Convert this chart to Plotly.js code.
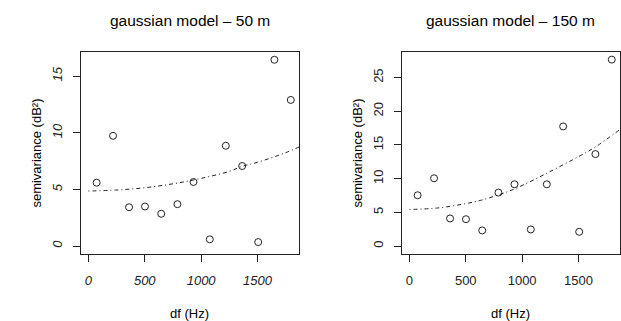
<!DOCTYPE html>
<html>
<head>
<meta charset="utf-8">
<script src="https://cdn.plot.ly/plotly-3.0.1.min.js"></script>
<style>html,body{margin:0;padding:0;background:#fff;}#plot{width:621px;height:321px;}</style>
</head>
<body>
<div id="plot"></div>
<script>
// lag distances (Hz)
var df = [73, 219, 361, 502, 646, 790, 932, 1077, 1219, 1364, 1506, 1650, 1795];
// empirical semivariance, 50 m
var semi50 = [5.6, 9.74, 3.43, 3.49, 2.85, 3.70, 5.66, 0.59, 8.86, 7.07, 0.35, 16.46, 12.91];
// empirical semivariance, 150 m
var semi150 = [7.54, 10.06, 4.10, 3.99, 2.32, 7.94, 9.17, 2.47, 9.17, 17.75, 2.12, 13.65, 27.66];
// fitted gaussian model curves
var fit50x = [0, 250, 500, 750, 1000, 1250, 1364, 1500, 1750, 1868];
var fit50y = [4.86, 4.95, 5.15, 5.5, 5.98, 6.6, 7.05, 7.4, 8.25, 8.75];
var fit150x = [0, 250, 500, 629, 790, 936, 1218, 1514, 1647, 1868];
var fit150y = [5.43, 5.65, 6.3, 6.77, 7.6, 8.5, 10.8, 13.4, 14.67, 17.3];
var titles = ["gaussian model \u2013 50 m", "gaussian model \u2013 150 m"];
var xTitle = "df (Hz)";
var yTitle = "semivariance (dB\u00b2)";

var W = 621, H = 321;
var boxTop = 52.3, boxBot = 253.5;
var lefts = [80.7, 401.7], rights = [299, 620];
var FONT = "Liberation Sans, Arial, sans-serif";
var ink = "#222";

function px(x){return x / W;}
function py(y){return 1 - y / H;}

var traces = [
  {x: df, y: semi50, type: "scatter", mode: "markers", xaxis: "x", yaxis: "y",
   marker: {symbol: "circle-open", size: 7, color: ink, line: {width: 1, color: ink}}, cliponaxis: false},
  {x: fit50x, y: fit50y, type: "scatter", mode: "lines", xaxis: "x", yaxis: "y",
   line: {color: ink, width: 1, dash: "1px,3px,4px,3px", shape: "spline"}},
  {x: df, y: semi150, type: "scatter", mode: "markers", xaxis: "x2", yaxis: "y2",
   marker: {symbol: "circle-open", size: 7, color: ink, line: {width: 1, color: ink}}, cliponaxis: false},
  {x: fit150x, y: fit150y, type: "scatter", mode: "lines", xaxis: "x2", yaxis: "y2",
   line: {color: ink, width: 1, dash: "1px,3px,4px,3px", shape: "spline"}}
];

function xa(i, italic){
  return {domain: [px(lefts[i]), px(rights[i])], range: [-68, 1868], anchor: i ? "y2" : "y",
    tickvals: [0, 500, 1000, 1500], ticks: "outside", ticklen: 7, tickwidth: 1, tickcolor: ink,
    ticklabelstandoff: 8,
    showline: true, mirror: true, linecolor: ink, linewidth: 1, showgrid: false, zeroline: false,
    tickfont: {family: FONT, size: 13, color: ink, style: italic ? "italic" : "normal"}, fixedrange: true};
}
function ya(i, italic, range, vals){
  return {domain: [py(boxBot), py(boxTop)], range: range, anchor: i ? "x2" : "x",
    tickvals: vals, ticks: "outside", ticklen: 7, tickwidth: 1, tickcolor: ink, tickangle: -90,
    ticklabelstandoff: 6,
    showline: true, mirror: true, linecolor: ink, linewidth: 1, showgrid: false, zeroline: false,
    tickfont: {family: FONT, size: 13, color: ink, style: italic ? "italic" : "normal"}, fixedrange: true};
}

var annotations = [];
for (var i = 0; i < 2; i++) {
  var cx = (lefts[i] + rights[i]) / 2;
  annotations.push({text: titles[i], xref: "paper", yref: "paper", x: px(cx), y: py(20),
    xanchor: "center", yanchor: "middle", showarrow: false, font: {family: FONT, size: 15.5, color: "#000"}});
  annotations.push({text: xTitle, xref: "paper", yref: "paper", x: px(cx), y: py(313),
    xanchor: "center", yanchor: "middle", showarrow: false, font: {family: FONT, size: 13, color: "#000"}});
  annotations.push({text: yTitle, xref: "paper", yref: "paper", x: px(lefts[i] - 44), y: py((boxTop + boxBot) / 2),
    xanchor: "center", yanchor: "middle", textangle: -90, showarrow: false, font: {family: FONT, size: 13, color: "#000"}});
}

var layout = {
  width: W, height: H, margin: {l: 0, r: 0, t: 0, b: 0},
  paper_bgcolor: "#fff", plot_bgcolor: "#fff", showlegend: false,
  xaxis: xa(0, true), yaxis: ya(0, true, [-0.66, 17.12], [0, 5, 10, 15]),
  xaxis2: xa(1, false), yaxis2: ya(1, false, [-1.1, 28.75], [0, 5, 10, 15, 20, 25]),
  annotations: annotations
};

Plotly.newPlot("plot", traces, layout, {staticPlot: true, displayModeBar: false});
</script>
</body>
</html>
